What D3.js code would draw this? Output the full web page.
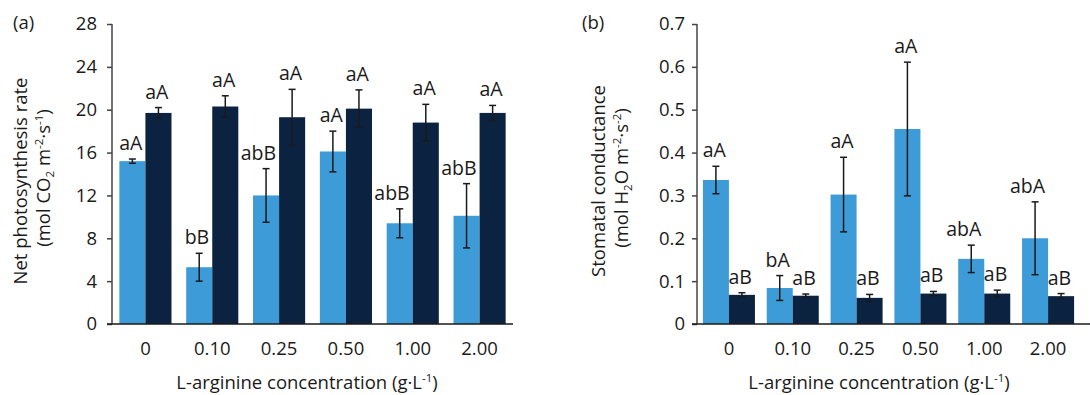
<!DOCTYPE html>
<html>
<head>
<meta charset="utf-8">
<script src="https://cdn.jsdelivr.net/npm/d3@7"></script>
<style>
  body { margin: 0; background: #fff; }
  svg { display: block; font-family: "Open Sans", sans-serif; }
</style>
</head>
<body>
<div class="container"></div>
<script>
// L-arginine concentrations (g·L-1)
const concentrations = ["0", "0.10", "0.25", "0.50", "1.00", "2.00"];

// (a) net photosynthesis rate
const photoLight = [15.2, 5.3, 12.0, 16.1, 9.4, 10.1];
const photoLightErr = [0.2, 1.3, 2.5, 1.9, 1.35, 3.0];
const photoLightLetters = ["aA", "bB", "abB", "aA", "abB", "abB"];
const photoDark = [19.7, 20.3, 19.3, 20.1, 18.8, 19.7];
const photoDarkErr = [0.5, 1.0, 2.6, 1.75, 1.7, 0.7];
const photoDarkLetters = ["aA", "aA", "aA", "aA", "aA", "aA"];
const photoTicks = [0, 4, 8, 12, 16, 20, 24, 28];

// (b) stomatal conductance
const condLight = [0.336, 0.084, 0.302, 0.455, 0.152, 0.200];
const condLightErr = [0.032, 0.029, 0.087, 0.156, 0.032, 0.085];
const condLightLetters = ["aA", "bA", "aA", "aA", "abA", "abA"];
const condDark = [0.068, 0.066, 0.061, 0.071, 0.071, 0.065];
const condDarkErr = [0.005, 0.004, 0.008, 0.005, 0.008, 0.006];
const condDarkLetters = ["aB", "aB", "aB", "aB", "aB", "aB"];
const condTicks = [0, 0.1, 0.2, 0.3, 0.4, 0.5, 0.6, 0.7];

const lightBlue = "#3d9bd7",
      navy = "#0b2341",
      ink = "#1a1a1a";

const svg = d3.select(".container")
              .append("svg")
              .attr("width", 1090)
              .attr("height", 395);

// text with sub/superscript pieces: [text, "sub" | "sup" | ""]
function richText(sel, parts) {
    let shift = 0;
    parts.forEach(p => {
        const target = p[1] == "sub" ? 4 : p[1] == "sup" ? -7 : 0;
        const s = sel.append("tspan").attr("dy", target - shift).text(p[0]);
        if (p[1]) s.attr("font-size", 11.5);
        shift = target;
    });
}

function drawPanel(o) {
    const top = 24, bottom = 324;
    const x0 = d3.scaleBand()
                 .domain(concentrations)
                 .range([o.left, o.right])
                 .paddingInner(o.pad)
                 .paddingOuter(o.pad / 2);
    const x1 = d3.scaleBand()
                 .domain(["light", "dark"])
                 .range([0, x0.bandwidth()]);
    const y = d3.scaleLinear()
                .domain([0, d3.max(o.ticks)])
                .range([bottom, top]);

    const rows = concentrations.map((c, i) => [
        {c: c, key: "light", v: o.light[i], e: o.lightErr[i], t: o.lightLetters[i]},
        {c: c, key: "dark", v: o.dark[i], e: o.darkErr[i], t: o.darkLetters[i]}
    ]).flat();

    const g = svg.append("g");

    g.selectAll("rect")
     .data(rows)
     .join("rect")
     .attr("x", d => x0(d.c) + x1(d.key))
     .attr("y", d => y(d.v))
     .attr("width", x1.bandwidth())
     .attr("height", d => y(0) - y(d.v))
     .attr("fill", d => d.key == "light" ? lightBlue : navy);

    // error bars
    const cx = d => x0(d.c) + x1(d.key) + x1.bandwidth() / 2;
    const err = g.selectAll(".err")
                 .data(rows)
                 .join("g")
                 .attr("class", "err")
                 .attr("stroke", ink)
                 .attr("stroke-width", 1.5);
    err.append("line")
       .attr("x1", cx).attr("x2", cx)
       .attr("y1", d => y(d.v + d.e)).attr("y2", d => y(d.v - d.e));
    err.append("line")
       .attr("x1", d => cx(d) - 3.5).attr("x2", d => cx(d) + 3.5)
       .attr("y1", d => y(d.v + d.e)).attr("y2", d => y(d.v + d.e));
    err.append("line")
       .attr("x1", d => cx(d) - 3.5).attr("x2", d => cx(d) + 3.5)
       .attr("y1", d => y(d.v - d.e)).attr("y2", d => y(d.v - d.e));

    // significance letters
    g.selectAll(".letter")
     .data(rows)
     .join("text")
     .attr("class", "letter")
     .attr("x", d => cx(d) + 10)
     .attr("y", d => y(d.v + d.e) - 9)
     .attr("text-anchor", "end")
     .attr("font-size", 19.5)
     .attr("fill", ink)
     .text(d => d.t);

    // y axis
    const yAxis = d3.axisLeft(y)
                    .tickValues(o.ticks)
                    .tickSize(5)
                    .tickPadding(o.tickPad)
                    .tickFormat(o.fmt);
    const ya = g.append("g")
                .attr("transform", `translate(${o.left},0)`)
                .call(yAxis);
    ya.select(".domain").attr("stroke", "#444").attr("stroke-width", 1.5)
      .attr("d", `M0,${top}V${bottom}`);
    ya.selectAll(".tick line").attr("stroke", "#444").attr("stroke-width", 1.5);
    ya.selectAll(".tick text").attr("font-size", 18.5).attr("fill", ink)
      .attr("font-family", "Open Sans");

    // x axis
    const xAxis = d3.axisBottom(x0).tickSize(0).tickPadding(0);
    const xa = g.append("g")
                .attr("transform", `translate(0,${bottom})`)
                .call(xAxis);
    xa.select(".domain").attr("stroke", ink).attr("stroke-width", 1.5)
      .attr("d", `M${o.left - 5},0H${o.axisEnd}`);
    xa.selectAll(".tick text").attr("font-size", 18.5).attr("fill", ink)
      .attr("font-family", "Open Sans")
      .attr("dy", 0).attr("y", 31);

    // x title
    const xt = g.append("text")
                .attr("x", o.xTitleX)
                .attr("y", 389)
                .attr("text-anchor", "middle")
                .attr("font-size", 18.5)
                .attr("fill", ink);
    richText(xt, [["L-arginine concentration (g·L", ""], ["-1", "sup"], [")", ""]]);

    // y title, two lines
    g.append("text")
     .attr("transform", `translate(${o.yTitleX},181) rotate(-90)`)
     .attr("text-anchor", "middle")
     .attr("font-size", 18.5)
     .attr("fill", ink)
     .text(o.yTitle1);
    const l2 = g.append("text")
                .attr("transform", `translate(${o.yTitleX + 23},178) rotate(-90)`)
                .attr("text-anchor", "middle")
                .attr("font-size", 18.5)
                .attr("fill", ink);
    richText(l2, o.yTitle2);

    // panel label
    g.append("text")
     .attr("x", o.tagX)
     .attr("y", 29)
     .attr("font-size", 18.5)
     .attr("fill", ink)
     .text(o.tag);
}

drawPanel({
    left: 112, right: 513, axisEnd: 513, pad: 0.22,
    light: photoLight, lightErr: photoLightErr, lightLetters: photoLightLetters,
    dark: photoDark, darkErr: photoDarkErr, darkLetters: photoDarkLetters,
    ticks: photoTicks, fmt: d3.format("d"), tickPad: 10,
    xTitleX: 307, yTitleX: 27, tag: "(a)", tagX: 13,
    yTitle1: "Net photosynthesis rate",
    yTitle2: [["(mol CO", ""], ["2", "sub"], [" m", ""], ["-2", "sup"], ["·s", ""], ["-1", "sup"], [")", ""]]
});

drawPanel({
    left: 697, right: 1080, axisEnd: 1090, pad: 0.185,
    light: condLight, lightErr: condLightErr, lightLetters: condLightLetters,
    dark: condDark, darkErr: condDarkErr, darkLetters: condDarkLetters,
    ticks: condTicks, fmt: d => d === 0 ? "0" : d3.format(".1f")(d), tickPad: 7,
    xTitleX: 879, yTitleX: 605, tag: "(b)", tagX: 582,
    yTitle1: "Stomatal conductance",
    yTitle2: [["(mol H", ""], ["2", "sub"], ["O m", ""], ["-2", "sup"], ["·s", ""], ["-2", "sup"], [")", ""]]
});
</script>
</body>
</html>
